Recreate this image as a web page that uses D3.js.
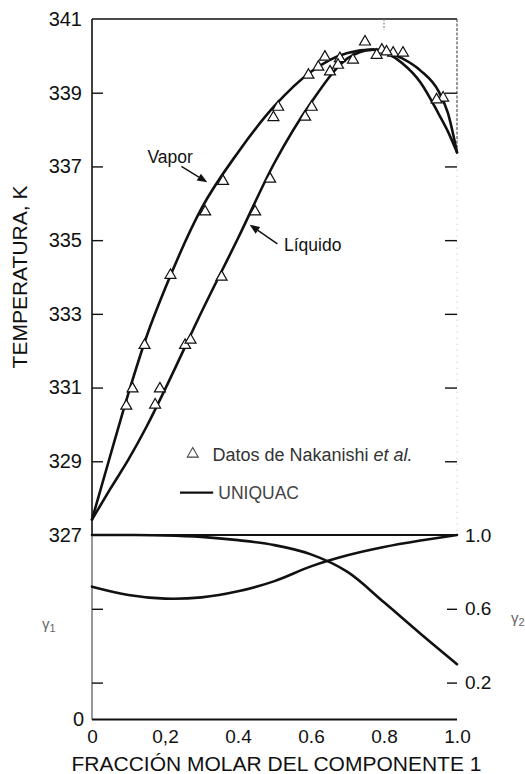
<!DOCTYPE html>
<html><head><meta charset="utf-8">
<script src="https://cdn.jsdelivr.net/npm/d3@7"></script>
<style>
html,body{margin:0;padding:0;background:#fff;}
svg{display:block;font-family:"Liberation Sans",Arial,Helvetica,sans-serif;}
</style></head>
<body><svg id="c" width="525" height="774"></svg>
<script>
// ---------- data ----------
const curveX  = [0, 0.05, 0.1, 0.15, 0.2, 0.3, 0.4, 0.5, 0.6, 0.7, 0.77, 0.85, 0.9, 0.95, 0.975, 1.0];
const vaporT  = [327.42, 329.15, 330.85, 332.4, 333.68, 335.86, 337.38, 338.64, 339.57, 340.08, 340.17, 339.93, 339.6, 339.03, 338.45, 337.38];
const liquidT = [327.42, 328.25, 329.05, 329.95, 330.95, 333.05, 335.05, 337.1, 338.73, 339.93, 340.17, 339.8, 339.28, 338.42, 337.95, 337.38];

const vaporPtsX = [0.094, 0.111, 0.144, 0.215, 0.310, 0.359, 0.497, 0.510, 0.593, 0.620, 0.638, 0.679, 0.715, 0.748, 0.794, 0.825, 0.852, 0.962];
const vaporPtsT = [330.50, 330.97, 332.15, 334.05, 335.77, 336.60, 338.33, 338.61, 339.48, 339.70, 339.97, 339.93, 339.89, 340.38, 340.16, 340.08, 340.08, 338.86];
const liquidPtsX = [0.173, 0.186, 0.255, 0.270, 0.355, 0.447, 0.488, 0.584, 0.602, 0.652, 0.674, 0.780, 0.807, 0.944];
const liquidPtsT = [330.53, 330.97, 332.15, 332.29, 334.00, 335.77, 336.66, 338.34, 338.61, 339.57, 339.75, 340.02, 340.11, 338.81];

const gammaX = [0, 0.1, 0.2, 0.3, 0.4, 0.5, 0.6, 0.7, 0.8, 0.9, 1.0];
const gamma1 = [0.72, 0.675, 0.655, 0.662, 0.695, 0.75, 0.83, 0.89, 0.935, 0.97, 1.0];
const gamma2 = [1.0, 1.0, 0.998, 0.99, 0.972, 0.945, 0.895, 0.8, 0.635, 0.465, 0.30];

const tempTicks = [327, 329, 331, 333, 335, 337, 339, 341];
const xTicks = [0, 0.2, 0.4, 0.6, 0.8, 1.0];
const xTickLabels = ["0", "0,2", "0.4", "0.6", "0.8", "1.0"];
const gammaRightTicks = [0.2, 0.6, 1.0];
const gammaRightLabels = ["0.2", "0.6", "1.0"];
const gammaLeftTicks = [0, 0.2, 0.6];

// ---------- scales ----------
const svg = d3.select("#c");
const x  = d3.scaleLinear().domain([0, 1]).range([92, 457]);
const yT = d3.scaleLinear().domain([327, 341]).range([535, 19]);
const yG = d3.scaleLinear().domain([0, 1]).range([719.5, 535]);

svg.append("rect").attr("width", 525).attr("height", 774).attr("fill", "#fff");

// ---------- frame ----------
const frame = svg.append("g").attr("stroke", "#111").attr("fill", "none");
frame.append("line").attr("x1", x(0)).attr("x2", x(0)).attr("y1", yT(341)).attr("y2", yT(327)).attr("stroke-width", 1.6);
frame.append("line").attr("x1", x(0)).attr("x2", x(0)).attr("y1", yG(1)).attr("y2", yG(0)).attr("stroke-width", 1.1).attr("stroke", "#444");
frame.append("line").attr("x1", x(0)).attr("x2", x(1)).attr("y1", yT(341)).attr("y2", yT(341)).attr("stroke-width", 1.6);
frame.append("line").attr("x1", x(0)).attr("x2", x(1)).attr("y1", yG(1)).attr("y2", yG(1)).attr("stroke-width", 2);
frame.append("line").attr("x1", x(0)).attr("x2", x(1)).attr("y1", yG(0)).attr("y2", yG(0)).attr("stroke-width", 2);
// faint right border
frame.append("line").attr("x1", x(1)).attr("x2", x(1)).attr("y1", yT(341)).attr("y2", yT(337.4))
  .attr("stroke", "#555").attr("stroke-width", 1.2).attr("stroke-dasharray", "3,1.5");
frame.append("line").attr("x1", x(1)).attr("x2", x(1)).attr("y1", yT(337.4)).attr("y2", yT(327))
  .attr("stroke", "#bbb").attr("stroke-width", 1).attr("stroke-dasharray", "1,5");
// small top tick
frame.append("line").attr("x1", x(0.8)).attr("x2", x(0.8)).attr("y1", yT(341)).attr("y2", yT(340.7))
  .attr("stroke", "#777").attr("stroke-width", 1).attr("stroke-dasharray", "2,1.5");

// ---------- axes ----------
function styleAxis(g, size) {
  g.select(".domain").remove();
  g.selectAll("line").attr("stroke", "#111").attr("stroke-width", 1.4);
  g.selectAll("text").attr("fill", "#111").attr("font-size", size)
    .attr("font-family", "Liberation Sans, Arial, sans-serif");
}
svg.append("g").attr("transform", `translate(${x(0)},0)`)
  .call(d3.axisLeft(yT).tickValues(tempTicks).tickSize(-11).tickPadding(10).tickFormat(d3.format("d")))
  .call(g => styleAxis(g, 20))
  .call(g => g.selectAll(".tick line").filter(d => d === 341 || d === 327).remove());

svg.append("g").attr("transform", `translate(${x(1)},0)`)
  .call(d3.axisRight(yT).tickValues(tempTicks.filter(d => d > 327 && d < 341)).tickSize(-12).tickFormat(""))
  .call(g => styleAxis(g, 20));

svg.append("g").attr("transform", `translate(${x(0)},0)`)
  .call(d3.axisLeft(yG).tickValues(gammaLeftTicks).tickSize(-11).tickPadding(8).tickFormat(d => d === 0 ? "0" : ""))
  .call(g => styleAxis(g, 20))
  .call(g => g.selectAll(".tick line").filter(d => d === 0).remove());

svg.append("g").attr("transform", `translate(${x(1)},0)`)
  .call(d3.axisRight(yG).tickValues(gammaRightTicks).tickSize(-10).tickPadding(8)
    .tickFormat((d, i) => gammaRightLabels[i]))
  .call(g => styleAxis(g, 19))
  .call(g => g.selectAll(".tick line").filter(d => d === 1).remove());

svg.append("g").attr("transform", `translate(0,${yG(0)})`)
  .call(d3.axisBottom(x).tickValues(xTicks).tickSize(0).tickPadding(10).tickFormat((d, i) => xTickLabels[i]))
  .call(g => styleAxis(g, 19));

// axis titles
svg.append("text").attr("x", (x(0) + x(1)) / 2 + 2).attr("y", 771).attr("text-anchor", "middle")
  .attr("font-size", 21).attr("fill", "#111").text("FRACCIÓN MOLAR DEL COMPONENTE 1");
svg.append("text").attr("transform", `translate(27,${yT(334.0)}) rotate(-90)`).attr("text-anchor", "middle")
  .attr("font-size", 21).attr("fill", "#111").text("TEMPERATURA, K");

// gamma labels
const g1 = svg.append("text").attr("x", 42).attr("y", yG(0.49)).attr("font-size", 15).attr("fill", "#666");
g1.append("tspan").text("γ");
g1.append("tspan").attr("font-size", 11).attr("dy", 3).text("1");
const g2 = svg.append("text").attr("x", 511).attr("y", yG(0.525)).attr("font-size", 15).attr("fill", "#666");
g2.append("tspan").text("γ");
g2.append("tspan").attr("font-size", 11).attr("dy", 3).text("2");

// ---------- curves ----------
const lineT = d3.line().x(d => x(d[0])).y(d => yT(d[1])).curve(d3.curveMonotoneX);
const lineG = d3.line().x(d => x(d[0])).y(d => yG(d[1])).curve(d3.curveCatmullRom.alpha(0.5));
const curves = svg.append("g").attr("fill", "none").attr("stroke", "#111").attr("stroke-width", 2.6)
  .attr("stroke-linejoin", "round").attr("stroke-linecap", "round");
curves.append("path").attr("d", lineT(d3.zip(curveX, vaporT)));
curves.append("path").attr("d", lineT(d3.zip(curveX, liquidT)));
curves.append("path").attr("d", lineG(d3.zip(gammaX, gamma1)));
curves.append("path").attr("d", lineG(d3.zip(gammaX, gamma2)));

// ---------- data points ----------
const tri = d3.symbol(d3.symbolTriangle, 52);
const pts = d3.zip(vaporPtsX, vaporPtsT).concat(d3.zip(liquidPtsX, liquidPtsT));
svg.append("g").selectAll("path").data(pts).join("path")
  .attr("d", tri).attr("transform", d => `translate(${x(d[0])},${yT(d[1])})`)
  .attr("fill", "#fff").attr("stroke", "#111").attr("stroke-width", 1.2);

// ---------- annotations ----------
function arrow(x1, y1, x2, y2) {
  const g = svg.append("g");
  const ang = Math.atan2(y2 - y1, x2 - x1), L = 10, W = 4;
  const bx = x2 - L * Math.cos(ang), by = y2 - L * Math.sin(ang);
  g.append("line").attr("x1", x1).attr("y1", y1).attr("x2", bx).attr("y2", by)
    .attr("stroke", "#111").attr("stroke-width", 1.4);
  g.append("path").attr("d", `M${x2},${y2}L${bx + W * Math.sin(ang)},${by - W * Math.cos(ang)}L${bx - W * Math.sin(ang)},${by + W * Math.cos(ang)}Z`)
    .attr("fill", "#111");
}
svg.append("text").attr("x", x(0.214)).attr("y", yT(337.1)).attr("text-anchor", "middle")
  .attr("font-size", 17.5).attr("fill", "#111").text("Vapor");
arrow(x(0.245), yT(337.0), x(0.316), yT(336.57));
svg.append("text").attr("x", x(0.526)).attr("y", yT(334.7)).attr("font-size", 17.5).attr("fill", "#111").text("Líquido");
arrow(x(0.508), yT(334.9), x(0.432), yT(335.42));

// ---------- legend ----------
svg.append("path").attr("d", tri).attr("transform", `translate(${x(0.276)},${yT(329.2)})`)
  .attr("fill", "#fff").attr("stroke", "#444").attr("stroke-width", 1.1);
const lt = svg.append("text").attr("x", x(0.33)).attr("y", yT(329.0)).attr("font-size", 18).attr("fill", "#333");
lt.append("tspan").text("Datos de Nakanishi ");
lt.append("tspan").attr("font-style", "italic").text("et al.");
svg.append("line").attr("x1", x(0.241)).attr("x2", x(0.332)).attr("y1", yT(328.15)).attr("y2", yT(328.15))
  .attr("stroke", "#111").attr("stroke-width", 2.4);
svg.append("text").attr("x", x(0.346)).attr("y", yT(327.98)).attr("font-size", 17.5).attr("fill", "#444").text("UNIQUAC");
</script></body></html>
